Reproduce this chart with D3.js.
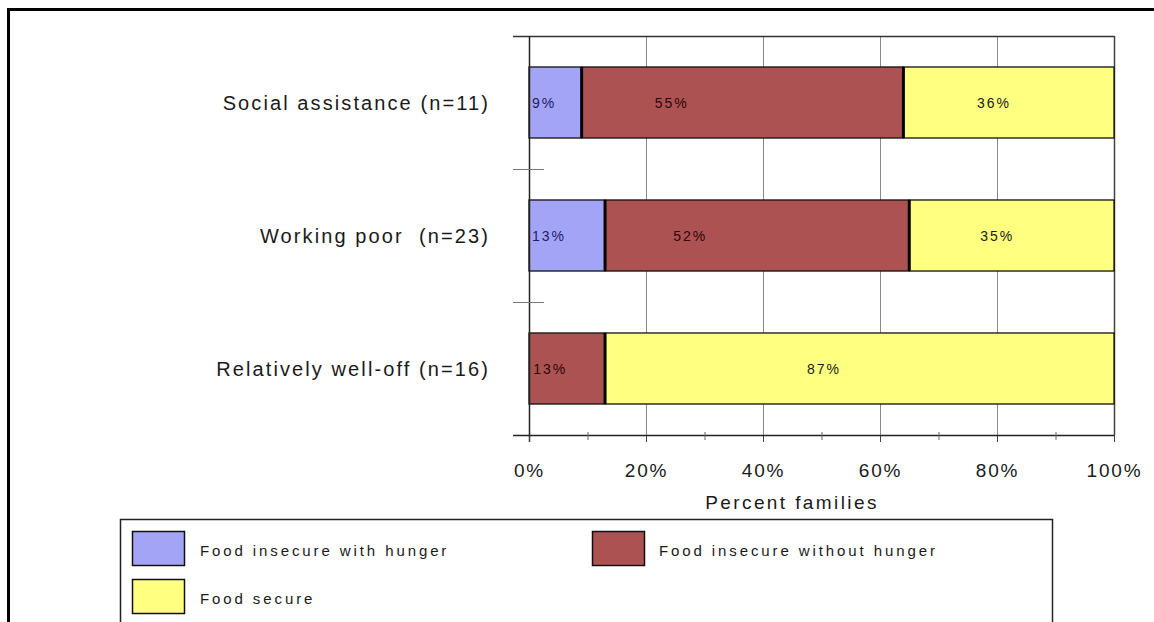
<!DOCTYPE html>
<html>
<head>
<meta charset="utf-8">
<script src="https://cdn.jsdelivr.net/npm/d3@7"></script>
<style>
  html, body { margin: 0; padding: 0; background: #fff; }
  svg { display: block; }
  text { font-family: "Liberation Sans", Arial, sans-serif; fill: #1a1a1a; }
</style>
</head>
<body>
<svg id="chart" width="1154" height="622"></svg>
<script>
// Family groups and share of families (%) in each food security status
const categories = ["Social assistance (n=11)", "Working poor  (n=23)", "Relatively well-off (n=16)"];
const seriesNames = ["Food insecure with hunger", "Food insecure without hunger", "Food secure"];
const withHunger = [9, 13, 0];
const withoutHunger = [55, 52, 13];
const foodSecure = [36, 35, 87];
const xTickValues = [0, 20, 40, 60, 80, 100];
const xMinorTicks = [10, 30, 50, 70, 90];
const xTitle = "Percent families";

const colors = ["#a4a4f6", "#ad5252", "#ffff80"];
const labelColors = ["#1c1c66", "#2a0808", "#1a1a1a"];
// where a label sits inside its segment, as a fraction of the segment width
const labelFrac = [0, 0.28, 0.43];

const rows = categories.map((c, i) => ({
  cat: c,
  [seriesNames[0]]: withHunger[i],
  [seriesNames[1]]: withoutHunger[i],
  [seriesNames[2]]: foodSecure[i]
}));
const stacked = d3.stack().keys(seriesNames)(rows);

const svg = d3.select("#chart");

// outer frame (open on the right and bottom)
svg.append("path")
  .attr("d", "M8.5,622 V9.5 H1154")
  .attr("fill", "none").attr("stroke", "#000").attr("stroke-width", 3);

const x = d3.scaleLinear().domain([0, 100]).range([529, 1114]);
const y = d3.scaleBand().domain(categories).range([36, 435])
  .paddingInner(0.466).paddingOuter(0.233);

const plotTop = 36, plotBottom = 435;

// vertical gridlines
svg.append("g").selectAll("line")
  .data(xTickValues.filter(v => v > 0 && v < 100))
  .join("line")
  .attr("x1", d => x(d) + 0.5).attr("x2", d => x(d) + 0.5)
  .attr("y1", plotTop).attr("y2", plotBottom)
  .attr("stroke", "#8a8a8a").attr("stroke-width", 1);

// top and right edges of the plot
svg.append("line")
  .attr("x1", 513).attr("x2", x(100) + 0.5)
  .attr("y1", plotTop + 0.5).attr("y2", plotTop + 0.5)
  .attr("stroke", "#333").attr("stroke-width", 1.5);
svg.append("line")
  .attr("x1", x(100) + 0.5).attr("x2", x(100) + 0.5)
  .attr("y1", plotTop).attr("y2", plotBottom)
  .attr("stroke", "#444").attr("stroke-width", 1.5);

// bars
const seg = svg.append("g");
stacked.forEach((layer, si) => {
  layer.forEach(d => {
    const v = d[1] - d[0];
    if (v <= 0) return;
    const x0 = x(d[0]), x1 = x(d[1]);
    seg.append("rect")
      .attr("x", x0).attr("y", y(d.data.cat))
      .attr("width", x1 - x0).attr("height", y.bandwidth())
      .attr("fill", colors[si])
      .attr("stroke", "#111").attr("stroke-width", 1.3);
  });
});
// heavier divider where one segment meets the next
stacked.forEach((layer, si) => {
  if (si === 0) return;
  layer.forEach(d => {
    if (d[0] <= 0 || d[1] - d[0] <= 0) return;
    svg.append("line")
      .attr("x1", x(d[0])).attr("x2", x(d[0]))
      .attr("y1", y(d.data.cat)).attr("y2", y(d.data.cat) + y.bandwidth())
      .attr("stroke", "#000").attr("stroke-width", 3);
  });
});

// value labels
stacked.forEach((layer, si) => {
  layer.forEach(d => {
    const v = d[1] - d[0];
    if (v <= 0) return;
    const x0 = x(d[0]), x1 = x(d[1]);
    const t = svg.append("text")
      .attr("y", y(d.data.cat) + y.bandwidth() / 2 + 5)
      .attr("text-anchor", "middle")
      .style("font-size", "14px")
      .style("letter-spacing", "2px")
      .style("fill", labelColors[si])
      .text(v + "%");
    const w = t.node().getComputedTextLength();
    const cx = Math.max(x0 + 3 + w / 2, x0 + labelFrac[si] * (x1 - x0));
    t.attr("x", cx);
  });
});

// left axis line with category boundary ticks
svg.append("line")
  .attr("x1", x(0) + 0.5).attr("x2", x(0) + 0.5)
  .attr("y1", plotTop).attr("y2", plotBottom + 7)
  .attr("stroke", "#222").attr("stroke-width", 1.5);
const bounds = d3.range(categories.length + 1).map(i => plotTop + i * y.step());
svg.append("g").selectAll("line")
  .data(bounds.slice(1, -1))
  .join("line")
  .attr("x1", 513).attr("x2", 544)
  .attr("y1", d => d + 0.5).attr("y2", d => d + 0.5)
  .attr("stroke", "#777").attr("stroke-width", 1);

// category labels
svg.append("g").selectAll("text")
  .data(categories)
  .join("text")
  .attr("x", 490)
  .attr("y", d => y(d) + y.bandwidth() / 2 + 7)
  .attr("text-anchor", "end")
  .style("font-size", "20px")
  .style("letter-spacing", "2.1px")
  .style("white-space", "pre")
  .text(d => d);

// bottom axis
const xAxis = d3.axisBottom(x)
  .tickValues(xTickValues)
  .tickFormat(d => d + "%")
  .tickSize(7)
  .tickPadding(22);
const gx = svg.append("g")
  .attr("transform", `translate(0,${plotBottom})`)
  .call(xAxis);
gx.select(".domain").remove();
gx.selectAll(".tick line").attr("stroke", "#444").attr("stroke-width", 1);
gx.selectAll(".tick text")
  .style("font-size", "19px")
  .style("letter-spacing", "1.8px")
  .style("font-family", "'Liberation Sans', Arial, sans-serif")
  .attr("fill", "#1a1a1a");
svg.append("line")
  .attr("x1", 513).attr("x2", x(100))
  .attr("y1", plotBottom + 0.5).attr("y2", plotBottom + 0.5)
  .attr("stroke", "#222").attr("stroke-width", 1.5);
svg.append("g").selectAll("line")
  .data(xMinorTicks)
  .join("line")
  .attr("x1", d => x(d) + 0.5).attr("x2", d => x(d) + 0.5)
  .attr("y1", plotBottom - 3).attr("y2", plotBottom + 5)
  .attr("stroke", "#666").attr("stroke-width", 1);

svg.append("text")
  .attr("x", 792).attr("y", 509)
  .attr("text-anchor", "middle")
  .style("font-size", "19px")
  .style("letter-spacing", "2.4px")
  .text(xTitle);

// legend box (runs past the bottom edge)
svg.append("rect")
  .attr("x", 120.5).attr("y", 519.5)
  .attr("width", 932).attr("height", 140)
  .attr("fill", "none").attr("stroke", "#222").attr("stroke-width", 1.5);

const legendPos = [
  { sx: 132, sy: 531, tx: 200, ty: 556 },
  { sx: 592, sy: 531, tx: 659, ty: 556 },
  { sx: 132, sy: 579, tx: 200, ty: 604 }
];
seriesNames.forEach((name, i) => {
  const p = legendPos[i];
  svg.append("rect")
    .attr("x", p.sx + 0.5).attr("y", p.sy + 0.5)
    .attr("width", 52).attr("height", 34)
    .attr("fill", colors[i])
    .attr("stroke", "#111").attr("stroke-width", 1.5);
  svg.append("text")
    .attr("x", p.tx).attr("y", p.ty)
    .style("font-size", "15px")
    .style("letter-spacing", "2.9px")
    .text(name);
});
</script>
</body>
</html>
